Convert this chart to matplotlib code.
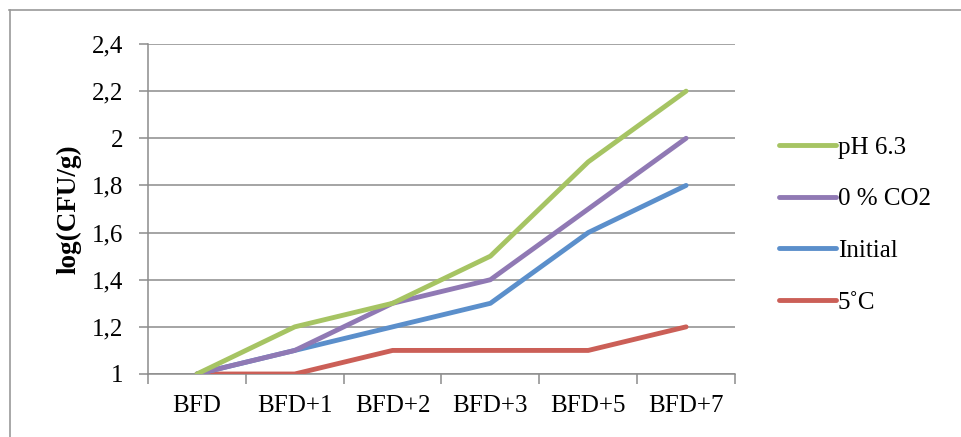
import matplotlib
matplotlib.use("Agg")
import matplotlib.pyplot as plt
from matplotlib.lines import Line2D

plt.rcParams['font.family'] = ['Liberation Serif', 'DejaVu Serif']

days = ["BFD", "BFD+1", "BFD+2", "BFD+3", "BFD+5", "BFD+7"]
ph63 = [1.0, 1.2, 1.3, 1.5, 1.9, 2.2]
co2_0 = [1.0, 1.1, 1.3, 1.4, 1.7, 2.0]
initial = [1.0, 1.1, 1.2, 1.3, 1.6, 1.8]
cold_5 = [1.0, 1.0, 1.1, 1.1, 1.1, 1.2]
y_ticks = [1.0, 1.2, 1.4, 1.6, 1.8, 2.0, 2.2, 2.4]
y_tick_labels = ["1", "1,2", "1,4", "1,6", "1,8", "2", "2,2", "2,4"]

W, H = 962, 437
FS = 18
fig = plt.figure(figsize=(W / 100, H / 100), dpi=100)
ax = fig.add_axes([148 / W, 1 - 374 / H, (735 - 148) / W, (374 - 44) / H])

x = list(range(len(days)))
lw = 3.5
l_red, = ax.plot(x, cold_5, color="#CB5F57", lw=lw, solid_capstyle="round", label="5˚C", zorder=3)
l_blue, = ax.plot(x, initial, color="#5B8FCB", lw=lw, solid_capstyle="round", label="Initial", zorder=4)
l_purple, = ax.plot(x, co2_0, color="#9079B4", lw=lw, solid_capstyle="round", label="0 % CO2", zorder=5)
l_green, = ax.plot(x, ph63, color="#A6C463", lw=lw, solid_capstyle="round", label="pH 6.3", zorder=6)

ax.set_xlim(-0.5, len(days) - 0.5)
ax.set_ylim(1.0, 2.4)
ax.set_yticks(y_ticks)
ax.set_yticklabels(y_tick_labels, fontsize=FS)
ax.set_xticks(x)
ax.set_xticklabels(days, fontsize=FS)
ax.set_xticks([i - 0.5 for i in range(len(days) + 1)], minor=True)
ax.tick_params(axis="x", which="major", length=0, pad=15)
ax.tick_params(axis="x", which="minor", length=7, width=1.1, color="#8c8c8c")
ax.tick_params(axis="y", length=6.5, width=1.1, color="#8c8c8c", pad=11.5)

ax.grid(axis="y", color="#8c8c8c", lw=1.1, zorder=1)
ax.set_axisbelow(True)
for s in ("top", "right"):
    ax.spines[s].set_visible(False)
for s in ("left", "bottom"):
    ax.spines[s].set_color("#8c8c8c")
    ax.spines[s].set_linewidth(1.1)

fig.text(69 / W, 1 - 209 / H, "log(CFU/g)", rotation=90, fontsize=19.5,
         fontweight="bold", ha="center", va="center")

leg = fig.legend(handles=[l_green, l_purple, l_blue, l_red],
                 loc="center left", bbox_to_anchor=(779 / W, 1 - 225 / H),
                 frameon=False, fontsize=FS, handlelength=2.28, handletextpad=0.08,
                 labelspacing=1.17, borderpad=0, borderaxespad=0)

# outer frame around the chart area
fig.add_artist(Line2D([9 / W, 1], [1 - 9.5 / H, 1 - 9.5 / H], color="#9a9a9a", lw=1.2,
                      transform=fig.transFigure))
fig.add_artist(Line2D([9.5 / W, 9.5 / W], [0, 1 - 9.5 / H], color="#9a9a9a", lw=1.2,
                      transform=fig.transFigure))

fig.savefig("out.png", dpi=100)
